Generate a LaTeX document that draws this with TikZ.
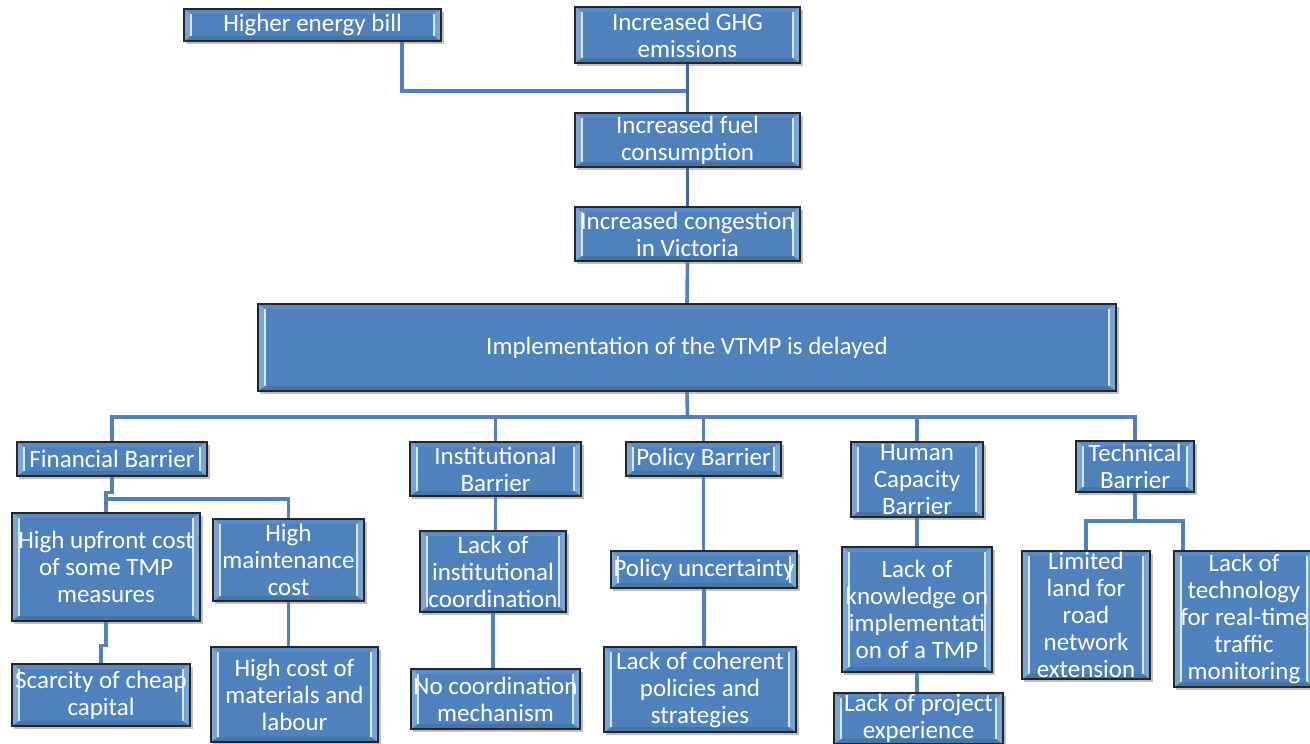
\documentclass[tikz,border=0pt]{standalone}
\usepackage{fontspec}
\setmainfont{Carlito}
\usetikzlibrary{backgrounds,calc}

\definecolor{boxfill}{HTML}{4F81BD}
\definecolor{bevelside}{HTML}{78A4D8}
\definecolor{bevelhi}{HTML}{D6EAFB}
\definecolor{beveltop}{HTML}{5A8BC6}
\definecolor{bevelbot}{HTML}{4675A8}
\definecolor{linkblue}{HTML}{4F81BD}
\definecolor{spineblue}{HTML}{43699A}

\tikzset{
  cbox/.style={
    draw=black!85, line width=1.3pt, fill=boxfill, inner sep=0pt,
    path picture={
      \path (path picture bounding box.south west) coordinate (pp-sw);
      \path (path picture bounding box.north east) coordinate (pp-ne);
      \path (path picture bounding box.north west) coordinate (pp-nw);
      \path (path picture bounding box.south east) coordinate (pp-se);
      \path ([xshift=7pt,yshift=5pt]pp-sw) coordinate (pi-sw);
      \path ([xshift=-7pt,yshift=-5pt]pp-ne) coordinate (pi-ne);
      \path ([xshift=7pt,yshift=-5pt]pp-nw) coordinate (pi-nw);
      \path ([xshift=-7pt,yshift=5pt]pp-se) coordinate (pi-se);
      \fill[beveltop] (pp-nw) -- (pp-ne) -- (pi-ne) -- (pi-nw) -- cycle;
      \fill[bevelbot] (pp-sw) -- (pp-se) -- (pi-se) -- (pi-sw) -- cycle;
      \fill[bevelside] (pp-sw) -- (pp-nw) -- (pi-nw) -- (pi-sw) -- cycle;
      \fill[bevelside] (pp-se) -- (pp-ne) -- (pi-ne) -- (pi-se) -- cycle;
      \draw[bevelhi, line width=1.4pt] (pi-nw) -- (pi-sw);
      \draw[bevelhi, line width=1.8pt] (pi-ne) -- (pi-se);
    }},
  ctext/.style={text=white, font=\fontsize{25}{27}\selectfont, align=center, inner sep=0pt},
  link/.style={draw=linkblue, line width=3.6pt},
  spine/.style={draw=spineblue, line width=3.6pt},
  boxshadow/.style={fill=black, opacity=0.25},
}

% box: name, left, top, right, bottom, text
\newcommand\chartbox[6]{%
  \begin{scope}[on background layer]
    \fill[boxshadow] (#2+2,#3+2.5) rectangle (#4+2.5,#5+2.5);
  \end{scope}
  \node[cbox, minimum width={#4pt-#2pt}, minimum height={#5pt-#3pt}] (#1) at ({(#2+#4)/2},{(#3+#5)/2}) {};
  \node[ctext] (#1-t) at (#1.center) {#6};
}

\begin{document}
\begin{tikzpicture}[x=1pt,y=-1pt]
\useasboundingbox (0,0) rectangle (1310,744);
\begin{scope}[on background layer]
  \fill[white] (0,0) rectangle (1310,744);
\end{scope}

% consequences
\chartbox{bill}{184}{9}{441}{41}{Higher energy bill}
\chartbox{ghg}{575}{7}{800}{63}{Increased GHG\\emissions}
\chartbox{fuel}{575}{113}{800}{167}{Increased fuel\\consumption}
\chartbox{cong}{575}{207}{800}{261}{Increased congestion\\in Victoria}

% core problem
\chartbox{impl}{258}{304}{1116}{391}{Implementation of the VTMP is delayed}

% barriers
\chartbox{fin}{17}{442}{207}{476}{Financial Barrier}
\chartbox{inst}{410}{442}{581}{496}{Institutional\\Barrier}
\chartbox{pol}{626}{442}{781}{476}{Policy Barrier}
\chartbox{hum}{851}{442}{983}{517}{Human\\Capacity\\Barrier}
\chartbox{tech}{1076}{441}{1194}{492}{Technical\\Barrier}

% causes
\chartbox{upf}{12}{513}{200}{621}{High upfront cost\\of some TMP\\measures}
\chartbox{maint}{213}{519}{364}{601}{High\\maintenance\\cost}
\chartbox{scar}{12}{664}{190}{726}{Scarcity of cheap\\capital}
\chartbox{mat}{211}{647}{378}{742}{High cost of\\materials and\\labour}
\chartbox{lic}{420}{531}{566}{612}{Lack of\\institutional\\coordination}
\chartbox{noc}{411}{669}{580}{729}{No coordination\\mechanism}
\chartbox{unc}{611}{551}{797}{588}{Policy uncertainty}
\chartbox{coh}{604}{647}{796}{732}{Lack of coherent\\policies and\\strategies}
\chartbox{know}{842}{547}{992}{672}{Lack of\\knowledge on\\implementati\\on of a TMP}
\chartbox{proj}{834}{693}{1003}{744}{Lack of project\\experience}
\chartbox{land}{1022}{551}{1150}{679}{Limited\\land for\\road\\network\\extension}
\chartbox{techno}{1174}{551}{1314}{687}{Lack of\\technology\\for real-time\\traffic\\monitoring}

\coordinate (billjoin) at (687.5,91);
\coordinate (bus) at (687.5,417);
\coordinate (finsplit) at (106,499);
\coordinate (techsplit) at (1135,521);

\begin{scope}[on background layer]
  % upper chain
  \draw[link] ([xshift=89.5pt]bill.south) |- (billjoin);
  \draw[spine] (ghg.south) -- (fuel.north);
  \draw[spine] (fuel.south) -- (cong.north);
  \draw[link] (cong.south) -- (impl.north);
  % bus to the barriers
  \draw[link] (impl.south) -- (bus);
  \draw[link] (fin.north) |- (bus) -| (tech.north);
  \draw[link] (inst.north) -- (inst.north |- bus);
  \draw[link] (pol.north) -- (pol.north |- bus);
  \draw[link] (hum.north) -- (hum.north |- bus);
  % financial branch
  \draw[link] (fin.south) -- ++(0,16) -| (upf.north);
  \draw[link] (finsplit) -| (maint.north);
  \draw[link] (upf.south) -- ++(0,24) -| (scar.north);
  \draw[link] (maint.south) -- (maint.south |- mat.north);
  % institutional, policy, human branches
  \draw[link] (inst.south) -- (inst.south |- lic.north);
  \draw[link] (lic.south) -- (lic.south |- noc.north);
  \draw[link] (pol.south) -- (pol.south |- unc.north);
  \draw[link] (unc.south) -- (unc.south |- coh.north);
  \draw[link] (hum.south) -- (hum.south |- know.north);
  \draw[link] (know.south) -- (know.south |- proj.north);
  % technical branch
  \draw[link] (tech.south) -- (techsplit);
  \draw[link] (land.north) |- (techsplit) -| ([xshift=-61pt]techno.north);
\end{scope}
\end{tikzpicture}
\end{document}
